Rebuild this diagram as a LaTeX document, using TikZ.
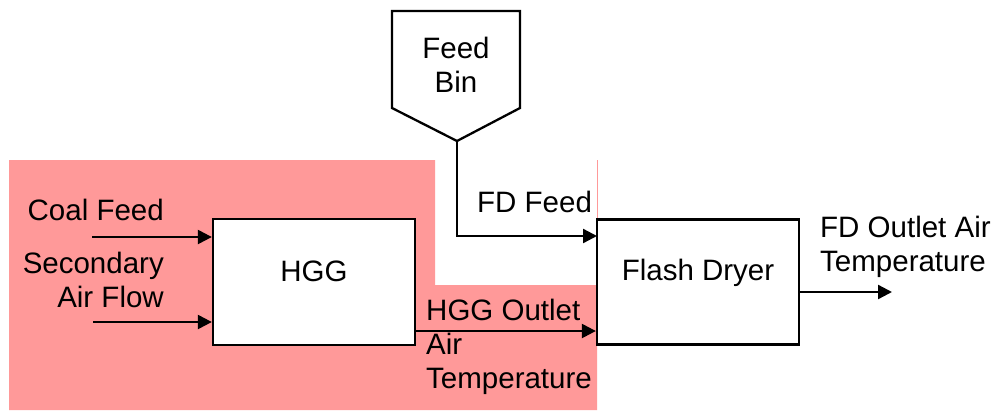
\documentclass[tikz,border=0pt]{standalone}
\usepackage{fontspec}
\setmainfont{Liberation Sans}
\usetikzlibrary{arrows.meta}
\definecolor{pinkbg}{HTML}{FF9999}
\tikzset{
  lbl/.style={inner sep=0pt, font=\fontsize{29.5}{34}\selectfont},
  procbox/.style={draw, line width=2.3pt, fill=white, inner sep=0pt, minimum width=202pt, font=\fontsize{29.5}{34}\selectfont},
  arr/.style={line width=2.3pt, -{Triangle[length=14pt,width=14pt]}},
  plain/.style={line width=2.3pt}
}
\begin{document}
\begin{tikzpicture}[x=1pt,y=-1pt]
\useasboundingbox (0,0) rectangle (993,410);
% pink region
\fill[pinkbg] (9,160) -- (435,160) -- (435,285) -- (597,285) -- (597,410) -- (9,410) -- cycle;
\draw[pinkbg, line width=0.8pt] (597,160) -- (597,222);
% feed bin
\draw[plain, line join=miter] (392,11) -- (520,11) -- (520,108) -- (457,141) -- (392,108) -- cycle;
\coordinate (bintip) at (457,141);
\node[lbl, anchor=base] (bin1) at (456,58) {Feed};
\node[lbl, anchor=base] (bin2) at (456,92) {Bin};
% boxes
\node[procbox, text height=62pt, text depth=64pt] (hgg) at (314,282) {HGG};
\node[procbox, text height=61pt, text depth=64pt] (flash) at (698,282) {Flash Dryer};
% inputs
\coordinate (coalin) at (92,237);
\coordinate (airin) at (93,322);
\draw[arr] (coalin) -- (coalin -| hgg.west);
\draw[arr] (airin) -- (airin -| hgg.west);
\node[lbl, anchor=base east] (coal) at (164,220) {Coal Feed};
\node[lbl, anchor=base east] (sec1) at (164,273) {Secondary};
\node[lbl, anchor=base east] (sec2) at (164,307) {Air Flow};
% feed line
\coordinate (feedin) at (597,236);
\draw[arr] (bintip) |- (feedin);
\node[lbl, anchor=base west] (fdfeed) at (477,212) {FD Feed};
% HGG outlet
\coordinate (hggout) at (415,331);
\draw[arr] (hggout) -- (hggout -| flash.west);
\node[lbl, anchor=base west] (ho1) at (426,320) {HGG Outlet};
\node[lbl, anchor=base west] (ho2) at (426,354) {Air};
\node[lbl, anchor=base west] (ho3) at (426,388) {Temperature};
% FD outlet
\coordinate (fdout) at (892,292);
\draw[arr] (flash.east |- fdout) -- (fdout);
\node[lbl, anchor=base west] (fo1) at (820,237) {FD Outlet Air};
\node[lbl, anchor=base west] (fo2) at (820,271) {Temperature};
\end{tikzpicture}
\end{document}
